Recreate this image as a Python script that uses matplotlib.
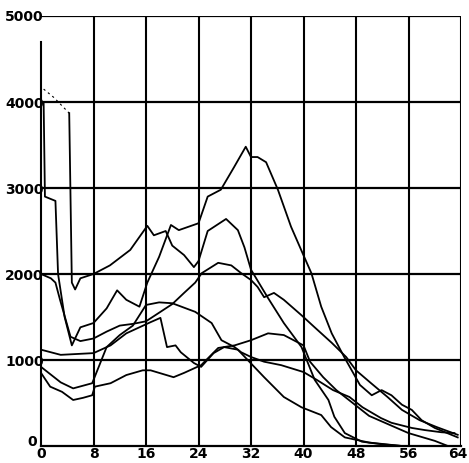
import matplotlib
matplotlib.use("Agg")
import matplotlib.pyplot as plt
from matplotlib.transforms import ScaledTranslation

# six traces (x = time, y = counts)
x_a = [0.4, 2, 4.3, 4.7, 5.2, 6, 8, 10.5, 13.6, 16.2, 17.2, 19, 20, 21.8, 23.3, 24, 25.4, 27.4, 28.2,
       30, 31, 32, 34.6, 37, 39.7, 41.7, 43.8, 44.7, 46.3, 48.9, 52, 55]
y_a = [4150, 4050, 3870, 1900, 1820, 1950, 2000, 2100, 2280, 2560, 2450, 2500, 2330, 2220, 2080, 2150, 2500, 2600, 2640,
       2510, 2310, 2050, 1720, 1430, 1150, 770, 535, 340, 150, 50, 20, 0]

x_b = [0.4, 0.6, 2.2, 2.6, 3.6, 4.7, 6, 8, 10, 11.6, 13, 15, 16.2, 18, 19.8, 21, 22.5, 24, 25.4, 27.4, 29.4,
       31.2, 32, 33, 34.3, 36.1, 38.1, 40.1, 41.2, 42.7, 44.3, 46.2, 48.6, 50.4, 51.9, 53.4, 55, 56.5, 58, 60, 63.5]
y_b = [4000, 2900, 2850, 2000, 1500, 1170, 1380, 1430, 1600, 1810, 1700, 1620, 1900, 2200, 2570, 2510, 2550, 2590, 2900, 2980, 3240,
       3480, 3360, 3360, 3300, 2980, 2550, 2200, 2010, 1620, 1310, 1035, 710, 590, 650, 590, 480, 420, 300, 210, 100]

x_c = [0, 1.5, 2.2, 2.9, 4.5, 6, 8, 10, 12, 14, 16, 18, 20, 21.8, 23.5, 24.5, 27, 29, 30.5, 32, 33, 34,
       35.5, 37, 39.7, 41.7, 44.3, 46.5, 48, 50.3, 52.8, 55, 57.7, 60.3, 63.5]
y_c = [2000, 1950, 1900, 1700, 1270, 1220, 1250, 1330, 1400, 1420, 1450, 1550, 1650, 1780, 1900, 2010, 2130, 2100, 2010, 1930, 1850, 1730,
       1780, 1700, 1520, 1380, 1200, 1035, 880, 730, 570, 420, 300, 220, 130]

x_d = [0, 3, 8, 10.6, 13, 16.7, 18.2, 19.2, 20.5, 21.3, 23.3, 24.4, 26.3, 27.9, 30, 31.5, 34, 37, 39.7,
       42.7, 44.2, 46.3, 50, 55]
y_d = [1120, 1060, 1080, 1170, 1310, 1440, 1490, 1150, 1170, 1090, 965, 920, 1080, 1150, 1120, 1000, 800, 570, 450,
       360, 220, 100, 40, 0]

x_e = [0, 3, 4.9, 7.8, 10, 12, 14, 16, 18, 20, 23.5, 26, 27.5, 29.5, 30.5, 32, 34, 36.6, 40, 42, 44.5,
       47, 49, 51.8, 53.4, 56.5, 58.5, 61, 63]
y_e = [920, 740, 670, 730, 1150, 1290, 1400, 1640, 1670, 1660, 1560, 1430, 1230, 1150, 1090, 1035, 980, 940, 860, 770, 650,
       570, 450, 325, 270, 210, 185, 160, 150]

x_f = [0, 1.4, 3.2, 4.9, 6.4, 7.8, 8.2, 10.6, 13, 15.5, 16.7, 20.2, 21.8, 24.4, 27, 29.5, 32, 34.6, 37, 40,
       41, 43, 45, 47.5, 50, 53, 56, 60, 62]
y_f = [850, 690, 630, 535, 560, 590, 690, 730, 825, 880, 880, 800, 850, 940, 1140, 1170, 1230, 1310, 1290, 1170,
       980, 800, 650, 500, 350, 250, 150, 60, 0]

x_ticks = [0, 8, 16, 24, 32, 40, 48, 56, 64]
y_ticks = [0, 1000, 2000, 3000, 4000, 5000]

fig = plt.figure(figsize=(4.69, 4.63), dpi=100)
ax = fig.add_axes([41 / 469, 17 / 463, 420 / 469, 430 / 463])

# heavy plotter-style grid
for xv in x_ticks[1:]:
    ax.plot([xv, xv], [0, 5000], color='black', lw=1.5, solid_capstyle='butt', zorder=1)
for yv in y_ticks[1:]:
    ax.plot([0, 64], [yv, yv], color='black', lw=1.6, solid_capstyle='butt', zorder=1)

# first trace: the top segment is barely inked in the original, so dot it
ax.plot(x_a[:3], y_a[:3], color='black', lw=0.8, ls=(0, (2, 3)), zorder=2)
ax.plot(x_a[2:], y_a[2:], color='black', lw=1.3, zorder=2)
for xs, ys in [(x_b, y_b), (x_c, y_c), (x_d, y_d), (x_e, y_e), (x_f, y_f)]:
    ax.plot(xs, ys, color='black', lw=1.3, zorder=2)

ax.set_xlim(0, 64)
ax.set_ylim(0, 5000)
for side in ['top', 'right']:
    ax.spines[side].set_visible(False)
ax.spines['left'].set_bounds(0, 4700)
ax.spines['left'].set_linewidth(1.5)
ax.spines['bottom'].set_linewidth(1.6)

ax.set_xticks(x_ticks)
ax.set_yticks(y_ticks)
ax.tick_params(axis='x', length=0, pad=1)
ax.tick_params(axis='y', length=0, pad=-2)
for lab in ax.get_xticklabels() + ax.get_yticklabels():
    lab.set_fontweight('bold')
    lab.set_fontsize(10)
    lab.set_fontfamily('DejaVu Sans')

# nudge the corner labels like the original
ylab0 = ax.get_yticklabels()[0]
ylab0.set_transform(ylab0.get_transform() + ScaledTranslation(-7 / 100, 5 / 100, fig.dpi_scale_trans))
xlab64 = ax.get_xticklabels()[-1]
xlab64.set_transform(xlab64.get_transform() + ScaledTranslation(-3 / 100, 0, fig.dpi_scale_trans))

fig.savefig('out.png', dpi=100, facecolor='white')
